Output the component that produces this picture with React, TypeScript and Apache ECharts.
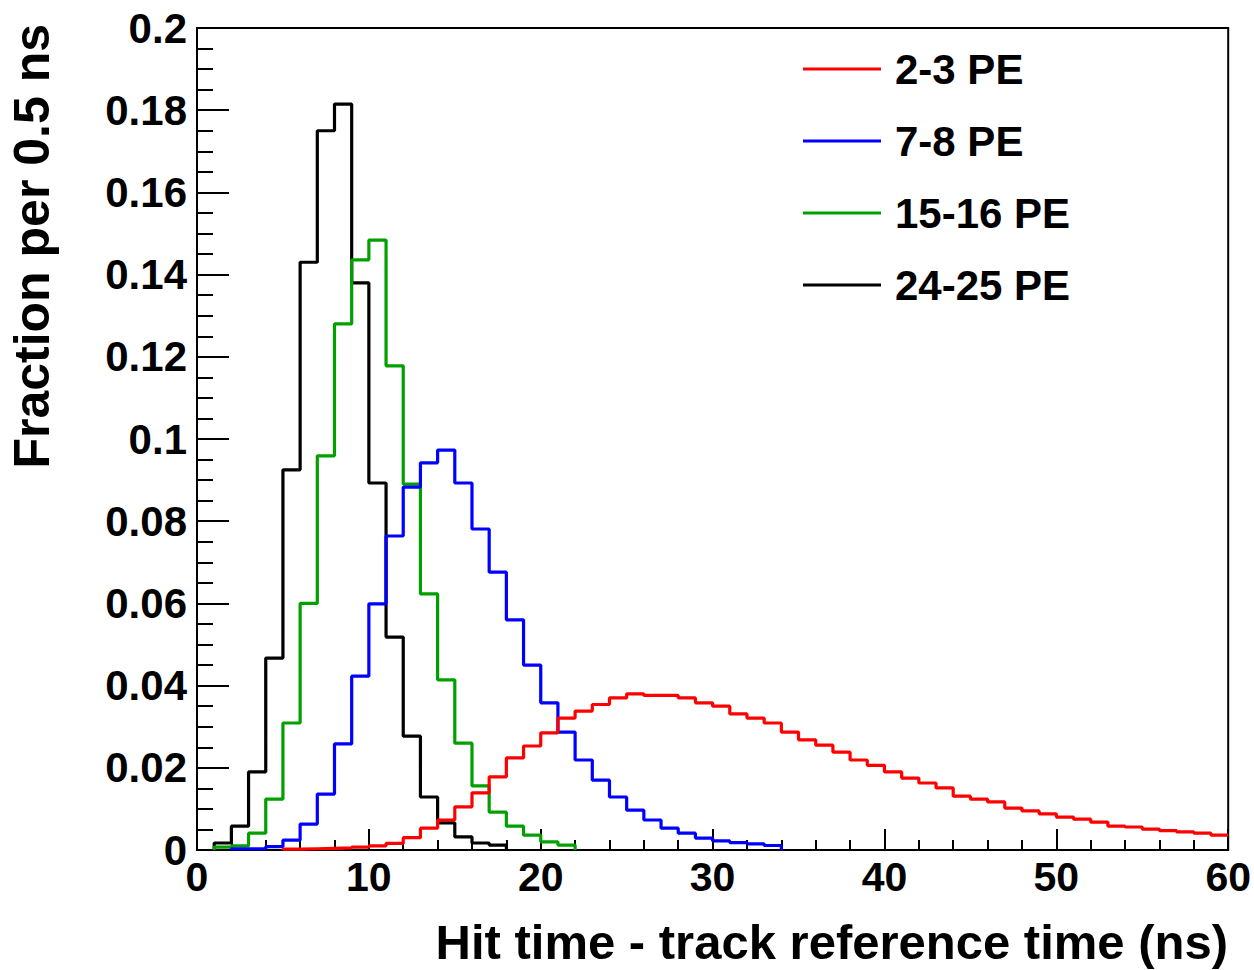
import React, { useEffect, useRef } from "react";
import * as echarts from "echarts";

// Histogram bins are 1 ns wide; each series lists the bin contents from its first bin.
const seriesNames = ["2-3 PE", "7-8 PE", "15-16 PE", "24-25 PE"];
const seriesColors = ["#ff0000", "#0000ff", "#00a000", "#000000"];

const redStart = 5;
const redValues = [
  0.0002, 0.0003, 0.0004, 0.0005, 0.0007, 0.001, 0.0016, 0.003, 0.0053, 0.0073,
  0.0105, 0.0139, 0.0178, 0.0224, 0.0253, 0.0285, 0.0321, 0.0338, 0.0354, 0.037,
  0.038, 0.0376, 0.0376, 0.037, 0.0358, 0.035, 0.0331, 0.0321, 0.0309, 0.0287,
  0.0268, 0.0255, 0.0238, 0.0219, 0.0206, 0.019, 0.0175, 0.0163, 0.0151, 0.0131,
  0.0124, 0.0117, 0.0102, 0.0095, 0.0088, 0.008, 0.0075, 0.0068, 0.0058, 0.0056,
  0.0051, 0.0047, 0.0044, 0.0041, 0.0036,
];

const blueStart = 2;
const blueValues = [
  0.0003, 0.0003, 0.0008, 0.0024, 0.0063, 0.0136, 0.0258, 0.0423, 0.0599, 0.0764,
  0.0883, 0.0942, 0.0973, 0.0893, 0.0781, 0.0676, 0.056, 0.045, 0.0358, 0.0287,
  0.0219, 0.017, 0.0129, 0.0097, 0.0073, 0.0053, 0.0041, 0.0029, 0.0022, 0.0018,
  0.0015, 0.0011,
];

const greenStart = 1;
const greenValues = [
  0.0007, 0.001, 0.0041, 0.0124, 0.0309, 0.06, 0.0959, 0.128, 0.1436, 0.1484,
  0.1178, 0.089, 0.0623, 0.0414, 0.026, 0.0156, 0.0092, 0.0058, 0.0036, 0.002,
  0.0012,
];

const blackStart = 1;
const blackValues = [
  0.0017, 0.0058, 0.019, 0.0467, 0.0925, 0.143, 0.175, 0.1815, 0.138, 0.0893,
  0.0518, 0.0277, 0.0129, 0.0066, 0.0032, 0.0017, 0.0012,
];

const xTicks = [0, 10, 20, 30, 40, 50, 60];
const yTicks = [0, 0.02, 0.04, 0.06, 0.08, 0.1, 0.12, 0.14, 0.16, 0.18, 0.2];

const X_MAX = 60;

function histPoints(start: number, values: number[]): number[][] {
  const pts: number[][] = [[start, 0]];
  values.forEach((v, i) => pts.push([start + i, v]));
  const end = start + values.length;
  if (end >= X_MAX) {
    pts.push([X_MAX, values[values.length - 1]]);
  } else {
    pts.push([end, 0]);
  }
  return pts;
}

const FONT = "'Liberation Sans', Arial, Helvetica, sans-serif";

export default function App() {
  const ref = useRef<HTMLDivElement>(null);

  useEffect(() => {
    if (!ref.current) return;
    const chart = echarts.init(ref.current, null, { renderer: "svg" });
    const datasets = [
      histPoints(redStart, redValues),
      histPoints(blueStart, blueValues),
      histPoints(greenStart, greenValues),
      histPoints(blackStart, blackValues),
    ];
    const option: any = {
      animation: false,
      backgroundColor: "#ffffff",
      grid: {
        left: 197,
        right: 24,
        top: 28,
        bottom: 120,
        show: true,
        borderColor: "#000",
        borderWidth: 2,
        backgroundColor: "transparent",
      },
      legend: {
        show: true,
        orient: "vertical",
        left: 803,
        top: 47,
        padding: 0,
        icon: "rect",
        itemWidth: 78,
        itemHeight: 3,
        itemGap: 28,
        selectedMode: false,
        textStyle: {
          fontFamily: FONT,
          fontWeight: "bold",
          fontSize: 42,
          color: "#000",
          lineHeight: 44,
          padding: [0, 0, 0, 9],
        },
        data: seriesNames,
      },
      xAxis: {
        type: "value",
        min: 0,
        max: 60,
        interval: 10,
        axisLine: { show: true, lineStyle: { color: "#000", width: 2 } },
        axisTick: { show: true, inside: true, length: 21, lineStyle: { color: "#000", width: 2 } },
        minorTick: { show: true, splitNumber: 5, length: 10, lineStyle: { color: "#000", width: 2 } },
        splitLine: { show: false },
        minorSplitLine: { show: false },
        axisLabel: {
          margin: 6,
          fontFamily: FONT,
          fontWeight: "bold",
          fontSize: 41,
          color: "#000",
          formatter: (v: number) => (xTicks.includes(v) ? String(v) : ""),
        },
      },
      yAxis: {
        type: "value",
        min: 0,
        max: 0.2,
        interval: 0.02,
        axisLine: { show: true, lineStyle: { color: "#000", width: 2 } },
        axisTick: { show: true, inside: true, length: 32, lineStyle: { color: "#000", width: 2 } },
        minorTick: { show: true, splitNumber: 4, length: 16, lineStyle: { color: "#000", width: 2 } },
        splitLine: { show: false },
        minorSplitLine: { show: false },
        axisLabel: {
          margin: 10,
          fontFamily: FONT,
          fontWeight: "bold",
          fontSize: 42,
          color: "#000",
          formatter: (v: number) => {
            const r = +v.toFixed(2);
            return yTicks.some((t) => Math.abs(t - r) < 1e-9) ? String(r) : "";
          },
        },
      },
      series: seriesNames.map((name, i) => ({
        name,
        type: "line",
        step: "end",
        data: datasets[i],
        symbol: "none",
        showSymbol: false,
        clip: true,
        color: seriesColors[i],
        lineStyle: { color: seriesColors[i], width: 3.2 },
        itemStyle: { color: seriesColors[i] },
        z: 4 - i,
      })),
      graphic: [
        {
          type: "text",
          x: 1228,
          y: 942,
          style: {
            text: "Hit time - track reference time (ns)",
            font: `bold 49px ${FONT}`,
            fill: "#000",
            textAlign: "right",
            textVerticalAlign: "middle",
          },
        },
        {
          type: "text",
          x: 32,
          y: 24,
          rotation: Math.PI / 2,
          style: {
            text: "Fraction per 0.5 ns",
            font: `bold 50px ${FONT}`,
            fill: "#000",
            textAlign: "right",
            textVerticalAlign: "middle",
          },
        },
      ],
    };
    chart.setOption(option);
    return () => chart.dispose();
  }, []);

  return (
    <div
      ref={ref}
      style={{ position: "fixed", left: 0, top: 0, width: 1254, height: 970, background: "#fff" }}
    />
  );
}
